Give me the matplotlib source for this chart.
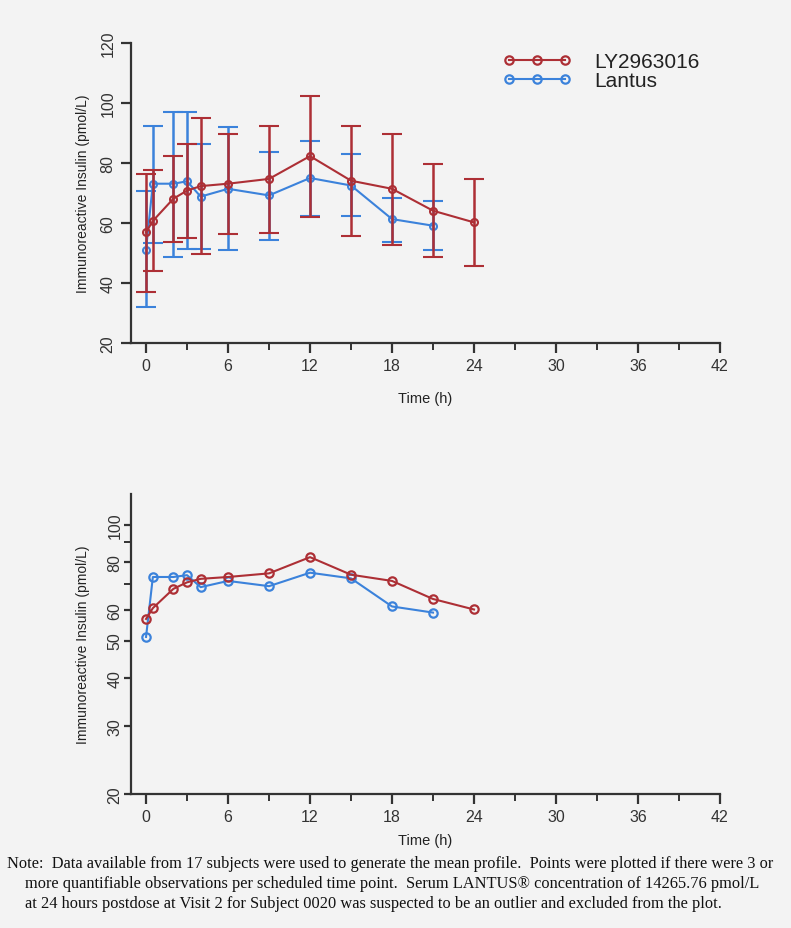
import matplotlib.pyplot as plt
from matplotlib.lines import Line2D
from matplotlib.ticker import FixedLocator, NullFormatter

# Time points (h)
t_ly = [0, 0.5, 2, 3, 4, 6, 9, 12, 15, 18, 21, 24]
t_lantus = [0, 0.5, 2, 3, 4, 6, 9, 12, 15, 18, 21]

# LY2963016 mean and error bar limits (pmol/L)
ly_mean = [56.9, 60.7, 68.1, 70.8, 72.3, 73.1, 74.7, 82.3, 74.1, 71.4, 64.1, 60.2]
ly_upper = [76.3, 77.8, 82.5, 86.4, 95.0, 89.7, 92.5, 102.5, 92.5, 89.7, 79.6, 74.6]
ly_lower = [36.9, 43.9, 53.8, 54.9, 49.7, 56.4, 56.6, 61.9, 55.6, 52.8, 48.8, 45.8]

# Lantus mean and error bar limits (pmol/L)
lantus_mean = [51.1, 73.1, 73.1, 73.9, 68.8, 71.4, 69.2, 75.0, 72.5, 61.3, 59.1]
lantus_upper = [70.6, 92.5, 97.0, 97.0, 86.4, 92.0, 83.6, 87.3, 83.1, 68.3, 67.2]
lantus_lower = [31.9, 53.4, 48.8, 51.4, 51.4, 51.1, 54.5, 62.5, 62.3, 53.8, 51.1]

red = '#ad2f35'
blue = '#3b82db'
bg = '#f3f3f3'

plt.rcParams['font.family'] = ['Liberation Sans', 'DejaVu Sans']

fig = plt.figure(figsize=(7.91, 9.29), dpi=100, facecolor=bg)
W, H = 791, 929
ax1 = fig.add_axes([131 / W, 1 - 344 / H, (720 - 131) / W, 300 / H], facecolor=bg)
ax2 = fig.add_axes([131 / W, 1 - 795 / H, (720 - 131) / W, 300 / H], facecolor=bg)


def err(mean, lo, hi):
    return [[m - l for m, l in zip(mean, lo)], [h - m for m, h in zip(mean, hi)]]


# Top panel: linear scale with error bars
ax1.errorbar(t_lantus, lantus_mean, yerr=err(lantus_mean, lantus_lower, lantus_upper),
             color=blue, marker='o', markersize=5, markerfacecolor='none', markeredgewidth=1.5,
             lw=1.5, elinewidth=1.8, capsize=7, capthick=1.8, zorder=2)
ax1.errorbar(t_ly, ly_mean, yerr=err(ly_mean, ly_lower, ly_upper),
             color=red, marker='o', markersize=5, markerfacecolor='none', markeredgewidth=1.5,
             lw=1.5, elinewidth=1.8, capsize=7, capthick=1.8, zorder=3)
ax1.set_ylim(20, 120)
ax1.set_yticks([20, 40, 60, 80, 100, 120])

# Bottom panel: log scale means only
ax2.plot(t_lantus, lantus_mean, color=blue, marker='o', markersize=6,
         markerfacecolor='none', markeredgewidth=1.6, lw=1.5)
ax2.plot(t_ly, ly_mean, color=red, marker='o', markersize=6,
         markerfacecolor='none', markeredgewidth=1.6, lw=1.5)
ax2.set_yscale('log')
ax2.set_ylim(20, 120)
ax2.yaxis.set_major_locator(FixedLocator([20, 30, 40, 50, 60, 80, 100]))
ax2.yaxis.set_minor_locator(FixedLocator([70, 90]))
ax2.yaxis.set_minor_formatter(NullFormatter())
ax2.set_yticklabels(['20', '30', '40', '50', '60', '80', '100'])

for ax, pad in ((ax1, 13), (ax2, 7)):
    ax.set_xlim(-1.1, 42)
    ax.set_xticks([0, 6, 12, 18, 24, 30, 36, 42])
    ax.xaxis.set_minor_locator(FixedLocator([3, 9, 15, 21, 27, 33, 39]))
    for s in ('top', 'right'):
        ax.spines[s].set_visible(False)
    for s in ('left', 'bottom'):
        ax.spines[s].set_linewidth(1.6)
        ax.spines[s].set_color('#333333')
    ax.tick_params(axis='both', which='major', direction='out', length=7, width=1.6,
                   colors='#333333', labelsize=11.5)
    ax.tick_params(axis='both', which='minor', direction='out', length=5, width=1.4,
                   colors='#333333')
    for lab in ax.get_yticklabels():
        lab.set_rotation(90)
        lab.set_va('center')
    ax.set_xlabel('Time (h)', fontsize=10.5, color='#222222', labelpad=pad)
    ax.set_ylabel('Immunoreactive Insulin (pmol/L)', fontsize=10, color='#222222', labelpad=8)

ax1.tick_params(axis='y', which='major', pad=4)
ax2.tick_params(axis='y', which='major', length=5, pad=1)
ax2.set_ylabel('Immunoreactive Insulin (pmol/L)', fontsize=10, color='#222222', labelpad=13)

# Legend with three markers per line
handles = [Line2D([], [], color=red, marker='o', markersize=6, markerfacecolor='none',
                  markeredgewidth=1.6, lw=1.5),
           Line2D([], [], color=blue, marker='o', markersize=6, markerfacecolor='none',
                  markeredgewidth=1.6, lw=1.5)]
leg = ax1.legend(handles, ['LY2963016', 'Lantus'], loc='upper left',
                 bbox_to_anchor=(0.613, 1.005), frameon=False, numpoints=3,
                 handlelength=3.3, fontsize=15, handletextpad=1.1,
                 labelspacing=0.0, borderpad=0)
for t in leg.get_texts():
    t.set_color('#222222')

note_lines = [
    "Note:  Data available from 17 subjects were used to generate the mean profile.  "
    "Points were plotted if there were 3 or",
    "more quantifiable observations per scheduled time point.  Serum LANTUS\u00ae "
    "concentration of 14265.76 pmol/L",
    "at 24 hours postdose at Visit 2 for Subject 0020 was suspected to be an outlier "
    "and excluded from the plot.",
]
for txt, x, y in zip(note_lines, [7, 25, 25], [864, 884, 904]):
    fig.text(x / W, 1 - y / H, txt, family='Liberation Serif', fontsize=11.8,
             va='center', ha='left', color='#111111')

fig.savefig('out.png', dpi=100, facecolor=bg)
